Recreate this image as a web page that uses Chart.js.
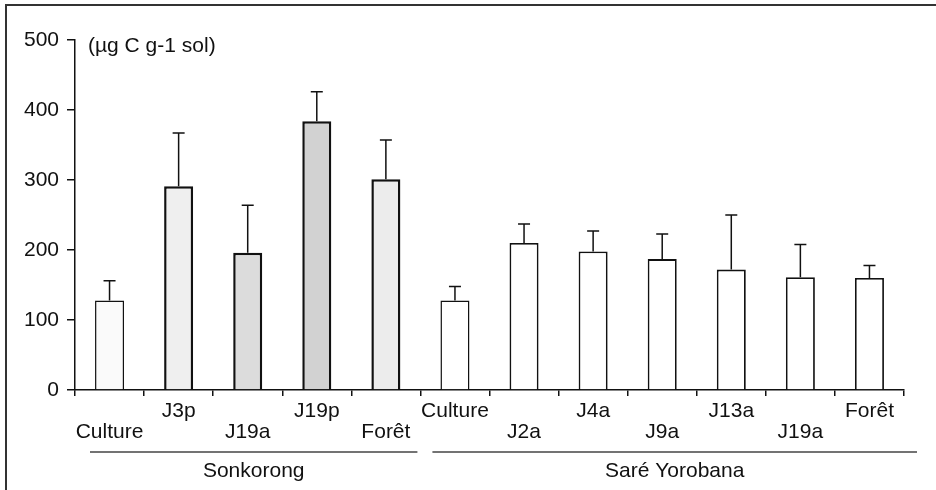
<!DOCTYPE html>
<html>
<head>
<meta charset="utf-8">
<script src="https://cdn.jsdelivr.net/npm/chart.js@4"></script>
<style>
  body { margin: 0; background: #fff; }
  #wrap { position: relative; width: 936px; height: 490px; }
</style>
</head>
<body>
<div id="wrap"><canvas id="chart" width="936" height="490"></canvas></div>
<script>
// data
const labels = ["Culture", "J3p", "J19a", "J19p", "Forêt", "Culture", "J2a", "J4a", "J9a", "J13a", "J19a", "Forêt"];
const values = [128, 291, 196, 384, 301, 128, 210, 198, 187, 172, 161, 160];
const errTop = [156, 367, 264, 426, 357, 148, 237, 227, 223, 250, 208, 178];
const upperRow = [false, true, false, true, false, true, false, true, false, true, false, true];
const groups = [{ name: "Sonkorong", from: 0, to: 4 }, { name: "Saré Yorobana", from: 5, to: 11 }];
const unitLabel = "(µg C g-1 sol)";

const fills = ["#fafafa", "#efefef", "#dcdcdc", "#d2d2d2", "#ececec", "#fff", "#fff", "#fff", "#fff", "#fff", "#fff", "#fff"];
const borders = [1.5, 2.5, 2.5, 2.5, 2.5, 1.5, 1.8, 1.8, 1.8, 1.8, 1.8, 1.8];
const FONT = "'Liberation Sans', Arial, sans-serif";

const extras = {
  id: "extras",
  afterDatasetsDraw(chart) {
    const ctx = chart.ctx, x = chart.scales.x, y = chart.scales.y;
    ctx.save();
    ctx.strokeStyle = "#111";
    ctx.lineWidth = 1.5;
    // error bars (upper only)
    values.forEach((v, i) => {
      const px = x.getPixelForValue(i);
      const y0 = y.getPixelForValue(v), y1 = y.getPixelForValue(errTop[i]);
      ctx.beginPath();
      ctx.moveTo(px, y0); ctx.lineTo(px, y1);
      ctx.moveTo(px - 6, y1); ctx.lineTo(px + 6, y1);
      ctx.stroke();
    });
    // unit label
    ctx.fillStyle = "#111";
    ctx.font = "21px " + FONT;
    ctx.textAlign = "left";
    ctx.textBaseline = "middle";
    ctx.fillText(unitLabel, 88, 46);
    // group lines and names
    const half = (x.getPixelForValue(1) - x.getPixelForValue(0)) / 2;
    ctx.strokeStyle = "#444";
    ctx.lineWidth = 1.5;
    ctx.textAlign = "center";
    groups.forEach((g, k) => {
      const a = x.getPixelForValue(g.from) - half + (k === 0 ? 15 : 12);
      const b = x.getPixelForValue(g.to) + half + (k === 0 ? -3 : 13);
      ctx.beginPath();
      ctx.moveTo(a, 452); ctx.lineTo(b, 452);
      ctx.stroke();
      ctx.fillText(g.name, (a + b) / 2, 471);
    });
    // scan frame
    ctx.strokeStyle = "#333";
    ctx.lineWidth = 2;
    ctx.beginPath();
    ctx.moveTo(6, 490); ctx.lineTo(6, 5); ctx.lineTo(936, 5);
    ctx.stroke();
    ctx.restore();
  }
};

new Chart(document.getElementById("chart"), {
  type: "bar",
  data: {
    labels: labels,
    datasets: [{
      data: values,
      backgroundColor: fills,
      borderColor: "#111",
      borderWidth: borders,
      barPercentage: 0.42,
      categoryPercentage: 1
    }]
  },
  options: {
    responsive: false,
    animation: false,
    layout: { padding: { left: 0, top: 40, right: 32, bottom: 0 } },
    plugins: { legend: { display: false }, tooltip: { enabled: false } },
    scales: {
      x: {
        grid: { display: true, drawOnChartArea: false, drawTicks: true, tickLength: 6, color: "#111", lineWidth: 1.5 },
        border: { display: true, color: "#111", width: 1.5 },
        ticks: {
          color: "#111",
          padding: 5,
          maxRotation: 0,
          autoSkip: false,
          font: { family: FONT, size: 21, lineHeight: 1.0 },
          callback: (v, i) => upperRow[i] ? [labels[i]] : ["", labels[i]]
        },
        afterFit: s => { s.height = 100; }
      },
      y: {
        min: 0, max: 500,
        grid: { display: true, drawOnChartArea: false, drawTicks: true, tickLength: 8, color: "#111", lineWidth: 1.5 },
        border: { display: true, color: "#111", width: 1.5 },
        ticks: { stepSize: 100, color: "#111", padding: 8, font: { family: FONT, size: 21 } },
        afterFit: s => { s.width = 75; }
      }
    }
  },
  plugins: [extras]
});
</script>
</body>
</html>
